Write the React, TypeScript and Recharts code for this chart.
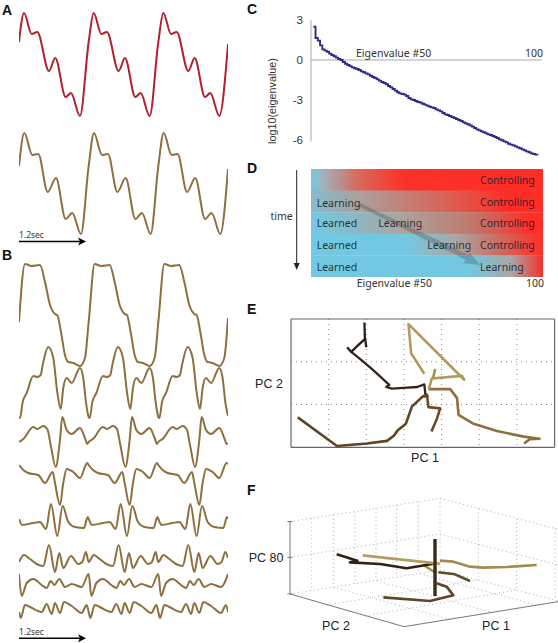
import { BarChart, Bar, Cell, CartesianGrid, LineChart, Line, ReferenceLine, XAxis, YAxis } from "recharts";
import type { CSSProperties } from "react";

// one cycle of each oscillator output: position along the trace and level
const a1Time = [0, 5, 12.7, 18.3, 30, 36.3, 46.7, 52, 61];
const a1Level = [78, 107, 86, 88, 49, 62, 23, 27, 4];
const a2Time = [0, 5.3, 13.3, 19.3, 28.7, 37, 46.7, 53.3, 62];
const a2Level = [72, 105, 83, 84, 46, 60, 19, 25, 4];
const b1Time = [0, 6, 12.7, 21, 26, 31, 36, 38.3, 42, 46, 49.3, 54.3, 61, 66];
const b1Level = [48, 106, 104, 105, 88, 65, 56, 55, 38, 15, 8, 7, 4, 12];
const b2Time = [0, 1, 3.7, 7.7, 14.3, 18.3, 21.7, 23.7, 29.3, 34.3, 38.3, 41.7, 44.3, 47.7, 52.7, 61, 64.3, 67];
const b2Level = [5, 4, 20, 29, 46, 45, 47, 57, 75, 64, 30, 13, 34, 44, 39, 54, 44, 20];
const b3Time = [0, 4.3, 14.3, 18.3, 24.3, 28.3, 31.7, 36.7, 41, 43.3, 47.7, 52.7, 61, 66, 68.3];
const b3Level = [28, 31, 43, 41, 44, 41, 25, 3, 30, 53, 40, 36, 42, 32, 26];
const b4Time = [0, 4.3, 9.3, 19.3, 26, 33.7, 36, 41, 44.3, 47.7, 54.3, 61, 68.3];
const b4Level = [45, 40, 37, 35, 27, 38, 27, 5, 27, 41, 38, 32, 47];
const b5Time = [0, 3.3, 14.3, 21, 27, 32, 38.3, 43.7, 49.3, 56, 65, 68.7];
const b5Level = [21, 15, 17, 18, 11, 36, 4, 34, 18, 13, 12, 23];
const b6Time = [0, 5, 11, 17.7, 24.3, 30, 36, 40.3, 44.3, 52, 59.3, 63.3, 67];
const b6Level = [13, 20, 16, 11, 9, 30, 3, 22, 7, 19, 11, 13, 23];
const b7Time = [0, 2.7, 7.7, 14.3, 22.7, 27.7, 31.7, 35.3, 40.3, 46, 52.7, 62.7];
const b7Level = [26, 4, 17, 21, 15, 12, 19, 15, 21, 13, 16, 13];
const b8Time = [0, 1.7, 6, 11, 22.7, 27.7, 32.7, 36, 41, 45, 52.7, 62.7, 67.7];
const b8Level = [12, 6, 19, 17, 12, 20, 10, 21, 11, 22, 18, 11, 19];

const CYCLE = 69.7;

const eigenvalues = [
  2.5, 1.65, 1.45, 1.1, 0.8, 0.7, 0.62, 0.48, 0.38, 0.28,
  0.18, 0.08, 0, -0.15, -0.28, -0.38, -0.46, -0.55, -0.62, -0.68,
  -0.75, -0.85, -0.92, -1, -1.08, -1.18, -1.28, -1.35, -1.45, -1.55,
  -1.65, -1.72, -1.82, -1.95, -2.05, -2.18, -2.3, -2.42, -2.5, -2.55,
  -2.6, -2.7, -2.85, -2.95, -3, -3.08, -3.15, -3.2, -3.28, -3.35,
  -3.42, -3.5, -3.55, -3.6, -3.7, -3.78, -3.85, -3.98, -4.08, -4.12,
  -4.2, -4.28, -4.35, -4.42, -4.5, -4.58, -4.68, -4.75, -4.82, -4.9,
  -5, -5.1, -5.2, -5.28, -5.35, -5.42, -5.5, -5.58, -5.62, -5.7,
  -5.78, -5.85, -5.95, -6.02, -6.1, -6.18, -6.28, -6.35, -6.4, -6.48,
  -6.55, -6.62, -6.7, -6.78, -6.85, -6.92, -7, -7.05, -7.1, -7.15,
];

const timeRows = ["t1", "t2", "t3", "t4", "t5"];

// PC trajectories, panel E: [PC 1, PC 2]
const pcDark1 = [[1.95, 2.92], [1.96, 2.59], [2.0, 2.34]];
const pcDark2 = [[1.96, 2.53], [1.75, 2.36], [1.6, 2.23], [1.49, 2.34]];
const pcDark3 = [[1.6, 2.23], [1.84, 2.06], [2.19, 1.8], [2.61, 1.46], [2.53, 1.41], [2.68, 1.37], [2.99, 1.39], [3.35, 1.41], [3.54, 1.47], [3.57, 1.23]];
const pcBrown1 = [[0.18, 0.7], [1.22, 0.03], [2.02, 0.09], [2.55, 0.15], [2.73, 0.27], [2.83, 0.39], [3.05, 0.55], [3.21, 0.95], [3.5, 1.19], [3.65, 1.19]];
const pcBrown2 = [[3.5, 1.19], [3.61, 1.23], [3.65, 0.94], [3.96, 0.91], [3.88, 0.68], [3.73, 0.37]];
const pcMid = [[3.65, 1.36], [4.23, 1.36], [4.41, 1.15], [4.45, 0.76], [4.85, 0.55], [5.47, 0.38], [6.18, 0.25], [6.6, 0.2], [6.34, 0.19], [6.19, 0.09]];
const pcTan1 = [[3.66, 1.36], [3.74, 1.61], [4.54, 1.67], [4.6, 1.58], [3.12, 2.88], [3.19, 2.2], [3.54, 1.72]];
const pcTan2 = [[3.83, 1.83], [3.77, 1.61]];

// panel F, already projected to the page plane
const wallLines = [
  [[15, 36.4], [60, 43.4]], [[15, 25.7], [60, 32.7]], [[15, 14.7], [60, 21.9]],
  [[60, 43.4], [95.4, 34.1]], [[60, 32.7], [95.4, 23.4]], [[60, 21.9], [95.4, 12.6]],
  [[21.5, 37.4], [21.5, 15.7]], [[28, 38.4], [28, 16.7]], [[34.5, 39.4], [34.5, 17.7]],
  [[40.8, 40.4], [40.8, 18.7]], [[47, 41.4], [47, 19.7]], [[53.5, 42.4], [53.5, 20.9]],
  [[60, 43.4], [60, 21.9]], [[71.5, 40.4], [71.5, 18.9]], [[83, 37.2], [83, 15.9]],
  [[94.5, 34.3], [94.5, 12.9]],
  [[26, 11.4], [71.5, 18.9]], [[37.5, 8.1], [83, 15.9]], [[63, 7.1], [28, 16.7]],
  [[76, 9.1], [40.8, 18.7]], [[89, 11.4], [53.5, 20.9]],
];
const boxAxes = [
  [[15, 36.4], [15, 14.7]], [[15, 14.7], [49.2, 4.9]], [[49.2, 4.9], [95.4, 12.4]],
  [[14.2, 36.4], [15.8, 36.4]], [[14.2, 25.7], [15.8, 25.7]], [[14.2, 14.7], [15.8, 14.7]],
];
const f3dRod = [[58.5, 31.2], [58.5, 14.1]];
const f3dDark = [[29, 26.6], [35.2, 24.7], [33, 24.2], [42, 23.7], [50, 22.4], [54.5, 23.2], [59, 23.9]];
const f3dTan1 = [[36.8, 26.3], [45, 25.4], [59, 23.9], [60, 23.7]];
const f3dTan2 = [[60, 24.7], [64, 24.4], [69, 22.9], [73, 22.6], [80, 22.8], [89, 23.4]];
const f3dTan3 = [[55, 23.4], [59, 20.9]];
const f3dBrown1 = [[43, 13.7], [57, 12.6], [64, 14.3], [62, 16.9], [59, 17.9]];
const f3dBrown2 = [[59.5, 21.2], [64.5, 20.6], [69, 18.6]];

const RED = "#b3202f";
const TAN = "#8e6f3f";
const SANS = "'Liberation Sans', Arial, sans-serif";
const HUMAN = "'Noto Sans', sans-serif";

// the outputs are periodic, so one read cycle is laid out three times
function threeCycles(time: number[], level: number[], last: number) {
  const rows: { t: number; v: number }[] = [];
  for (let c = 0; c < 3; c++) {
    time.forEach((t, i) => rows.push({ t: t + c * CYCLE, v: level[i] }));
  }
  rows.push({ t: 3 * CYCLE, v: last });
  return rows;
}

const toRows = (pts: number[][]) => pts.map(([x, y]) => ({ x, y }));

function Trace({ time, level, last, top, h, color }: { time: number[]; level: number[]; last: number; top: number; h: number; color: string }) {
  return (
    <div style={{ position: "absolute", left: 19, top }}>
      <LineChart width={209} height={h} data={threeCycles(time, level, last)} margin={{ top: 0, right: 0, bottom: 0, left: 0 }}>
        <XAxis hide type="number" dataKey="t" domain={[0, 3 * CYCLE]} />
        <YAxis hide domain={[0, h]} />
        <Line type="monotone" dataKey="v" stroke={color} strokeWidth={2} dot={false} isAnimationActive={false} />
      </LineChart>
    </div>
  );
}

function Txt({ x, y, children, style }: { x: number; y: number; children: React.ReactNode; style?: CSSProperties }) {
  return (
    <div style={{ position: "absolute", left: x, top: y, transform: "translateY(-50%)", whiteSpace: "nowrap", lineHeight: 1, ...style }}>
      {children}
    </div>
  );
}

const panelLetter: CSSProperties = { fontFamily: SANS, fontWeight: 700, fontSize: 14, color: "#111" };
const pcLabel: CSSProperties = { fontFamily: SANS, fontSize: 12.5, color: "#222" };
const dLabel: CSSProperties = { fontFamily: HUMAN, fontSize: 10.5, color: "rgba(12,28,44,0.88)" };
const cLabel: CSSProperties = { fontFamily: HUMAN, fontSize: 10.5, color: "#333" };

function PathLine({ pts, color, width = 2.6 }: { pts: number[][]; color: string; width?: number }) {
  return (
    <Line data={toRows(pts)} dataKey="y" type="linear" stroke={color} strokeWidth={width} dot={false} isAnimationActive={false} strokeLinejoin="round" />
  );
}

const rowGradients = [
  [[0, "#72c8e0"], [5, "#9fb4bc"], [20, "#d86a5e"], [40, "#fb3229"], [100, "#ff2d26"]],
  [[0, "#85bdcd"], [20, "#a9a29c"], [55, "#d4685c"], [85, "#ff2d26"], [100, "#ff2d26"]],
  [[0, "#72c8e0"], [15, "#86bccb"], [38, "#aca59f"], [70, "#c0776c"], [95, "#ff2d26"], [100, "#ff2d26"]],
  [[0, "#72c8e0"], [41, "#72c8e0"], [62, "#a9a8a6"], [82, "#d0685c"], [100, "#ff2d26"]],
  [[0, "#72c8e0"], [68, "#72c8e0"], [86, "#a8a8a6"], [100, "#f5302a"]],
];

export default function App() {
  return (
    <div style={{ position: "absolute", left: 0, top: 0, width: 558, height: 643, background: "#fff", overflow: "hidden" }}>
      <Trace time={a1Time} level={a1Level} last={76} top={8} h={112} color={RED} />
      <Trace time={a2Time} level={a2Level} last={69} top={128} h={110} color={TAN} />
      <Trace time={b1Time} level={b1Level} last={52} top={260} h={110} color={TAN} />
      <Trace time={b2Time} level={b2Level} last={6} top={342} h={80} color={TAN} />
      <Trace time={b3Time} level={b3Level} last={27} top={412} h={58} color={TAN} />
      <Trace time={b4Time} level={b4Level} last={46} top={458} h={52} color={TAN} />
      <Trace time={b5Time} level={b5Level} last={21} top={500} h={40} color={TAN} />
      <Trace time={b6Time} level={b6Level} last={17} top={542} h={33} color={TAN} />
      <Trace time={b7Time} level={b7Level} last={26} top={570} h={30} color={TAN} />
      <Trace time={b8Time} level={b8Level} last={12} top={598} h={26} color={TAN} />

      {/* C */}
      <div style={{ position: "absolute", left: 240, top: 10 }}>
        <LineChart width={310} height={160} data={eigenvalues.map((v, i) => ({ n: i + 1, v }))} margin={{ top: 10, right: 8, bottom: 10, left: 0 }}>
          <XAxis hide type="number" dataKey="n" domain={[0, 102]} />
          <YAxis
            width={71}
            domain={[-7.5, 3]}
            ticks={[3, 0, -3, -6]}
            axisLine={false}
            tickLine={false}
            tickMargin={2}
            interval={0}
            tick={{ fontSize: 11.5, fontFamily: SANS, fill: "#333" }}
          />
          <ReferenceLine y={0} stroke="#aaa" strokeWidth={1} />
          <ReferenceLine segment={[{ x: 0, y: 3 }, { x: 0, y: -6.1 }]} stroke="#aaa" strokeWidth={1} />
          <Line type="stepAfter" dataKey="v" stroke="#2f2c86" strokeWidth={1.9} dot={false} isAnimationActive={false} />
        </LineChart>
      </div>

      {/* D */}
      <div style={{ position: "absolute", left: 311, top: 169 }}>
        <BarChart
          layout="vertical"
          width={232}
          height={108}
          data={timeRows.map((row) => ({ row, eigen: 100 }))}
          margin={{ top: 0, right: 0, bottom: 0, left: 0 }}
          barCategoryGap={0}
        >
          <defs>
            {rowGradients.map((stops, i) => (
              <linearGradient key={i} id={`row${i}`} x1="0" y1="0" x2="1" y2="0">
                {stops.map(([o, c]) => (
                  <stop key={o} offset={`${o}%`} stopColor={c as string} />
                ))}
              </linearGradient>
            ))}
          </defs>
          <XAxis hide type="number" domain={[0, 100]} />
          <YAxis hide type="category" dataKey="row" />
          <Bar dataKey="eigen" isAnimationActive={false}>
            {timeRows.map((row, i) => (
              <Cell key={row} fill={`url(#row${i})`} />
            ))}
          </Bar>
        </BarChart>
      </div>

      {/* E */}
      <div style={{ position: "absolute", left: 289, top: 317 }}>
        <LineChart width={267.6} height={132.3} margin={{ top: 2, right: 2, bottom: 2, left: 2 }}>
          <CartesianGrid strokeDasharray="1 4" stroke="#888" horizontalValues={[1, 2]} verticalValues={[1, 2, 3, 4, 5, 6]} />
          <XAxis hide type="number" dataKey="x" domain={[0, 7]} />
          <YAxis hide type="number" domain={[0, 3]} />
          <ReferenceLine y={0} stroke="#666" strokeWidth={1.2} />
          <ReferenceLine y={3} stroke="#666" strokeWidth={1.2} />
          <ReferenceLine x={0} stroke="#666" strokeWidth={1.2} />
          <ReferenceLine x={7} stroke="#666" strokeWidth={1.2} />
          {PathLine({ pts: pcBrown1, color: "#5f4528" })}
          {PathLine({ pts: pcBrown2, color: "#6a4b2a" })}
          {PathLine({ pts: pcMid, color: "#8c7040" })}
          {PathLine({ pts: pcTan1, color: "#b29a5e" })}
          {PathLine({ pts: pcTan2, color: "#a88f50" })}
          {PathLine({ pts: pcDark1, color: "#2a2018", width: 2.3 })}
          {PathLine({ pts: pcDark2, color: "#2a2018", width: 2.3 })}
          {PathLine({ pts: pcDark3, color: "#33251a", width: 2.3 })}
        </LineChart>
      </div>

      {/* F */}
      <div style={{ position: "absolute", left: 240, top: 470 }}>
        <LineChart width={318} height={173} margin={{ top: 0, right: 0, bottom: 0, left: 0 }}>
          <XAxis hide type="number" dataKey="x" domain={[0, 95.4]} />
          <YAxis hide type="number" domain={[0, 51.9]} />
          {wallLines.map((pts, i) => (
            <Line key={`w${i}`} data={toRows(pts)} dataKey="y" stroke="#999" strokeWidth={0.8} strokeDasharray="1 3" dot={false} isAnimationActive={false} />
          ))}
          {boxAxes.map((pts, i) => (
            <Line key={`a${i}`} data={toRows(pts)} dataKey="y" stroke="#777" strokeWidth={1} dot={false} isAnimationActive={false} />
          ))}
          {PathLine({ pts: f3dBrown1, color: "#5f4427" })}
          {PathLine({ pts: f3dBrown2, color: "#5f4a2a" })}
          {PathLine({ pts: f3dTan3, color: "#a88f50" })}
          {PathLine({ pts: f3dDark, color: "#2e2216" })}
          {PathLine({ pts: f3dTan1, color: "#b59c60" })}
          {PathLine({ pts: f3dTan2, color: "#a58a50" })}
          {PathLine({ pts: f3dRod, color: "#3a2a18", width: 3.4 })}
        </LineChart>
      </div>

      {/* arrows */}
      <svg width={558} height={643} style={{ position: "absolute", left: 0, top: 0, pointerEvents: "none" }}>
        <polygon points="358,206 360,203 469,255 470,253 480,265 463,263 466,260" fill="rgba(70,70,70,0.3)" />
        <line x1={19} y1={241.5} x2={80} y2={241.5} stroke="#000" strokeWidth={1.6} />
        <polygon points="86,241.5 78,237.5 80,241.5 78,245.5" fill="#000" />
        <line x1={19} y1={638.3} x2={80} y2={638.3} stroke="#000" strokeWidth={1.6} />
        <polygon points="86,638.3 78,634.3 80,638.3 78,642.3" fill="#000" />
        <line x1={296.7} y1={170} x2={296.7} y2={264} stroke="#222" strokeWidth={1} />
        <polygon points="296.7,270 293.7,263 299.7,263" fill="#222" />
      </svg>

      {/* text */}
      <Txt x={2} y={10} style={panelLetter}>A</Txt>
      <Txt x={2} y={255} style={panelLetter}>B</Txt>
      <Txt x={247} y={9} style={panelLetter}>C</Txt>
      <Txt x={247} y={168} style={panelLetter}>D</Txt>
      <Txt x={247} y={309} style={panelLetter}>E</Txt>
      <Txt x={247} y={490} style={panelLetter}>F</Txt>

      <Txt x={19} y={235} style={{ fontFamily: HUMAN, fontSize: 8.5, color: "#333" }}>1.2sec</Txt>
      <Txt x={19} y={631.5} style={{ fontFamily: HUMAN, fontSize: 8.5, color: "#333" }}>1.2sec</Txt>

      <Txt x={356} y={53} style={cLabel}>Eigenvalue #50</Txt>
      <Txt x={525} y={53} style={cLabel}>100</Txt>
      <Txt x={272} y={101} style={{ fontFamily: SANS, fontSize: 10.8, color: "#333", transform: "translate(-50%,-50%) rotate(-90deg)" }}>log10(eigenvalue)</Txt>

      <Txt x={480} y={180} style={dLabel}>Controlling</Txt>
      <Txt x={480} y={201.7} style={dLabel}>Controlling</Txt>
      <Txt x={480} y={223.3} style={dLabel}>Controlling</Txt>
      <Txt x={480} y={245} style={dLabel}>Controlling</Txt>
      <Txt x={316.7} y={202.7} style={dLabel}>Learning</Txt>
      <Txt x={316.7} y={223.3} style={dLabel}>Learned</Txt>
      <Txt x={378.3} y={223.3} style={dLabel}>Learning</Txt>
      <Txt x={316.7} y={245} style={dLabel}>Learned</Txt>
      <Txt x={427.3} y={245} style={dLabel}>Learning</Txt>
      <Txt x={316.7} y={266.7} style={dLabel}>Learned</Txt>
      <Txt x={480} y={266.7} style={dLabel}>Learning</Txt>
      <Txt x={356.7} y={283} style={cLabel}>Eigenvalue #50</Txt>
      <Txt x={526} y={283} style={cLabel}>100</Txt>
      <Txt x={270.5} y={216} style={{ ...cLabel, fontSize: 10.5 }}>time</Txt>

      <Txt x={425} y={457.7} style={{ ...pcLabel, transform: "translate(-50%,-50%)" }}>PC 1</Txt>
      <Txt x={269} y={384} style={{ ...pcLabel, transform: "translate(-50%,-50%)" }}>PC 2</Txt>
      <Txt x={266} y={558} style={{ ...pcLabel, transform: "translate(-50%,-50%)" }}>PC 80</Txt>
      <Txt x={336} y={625.7} style={{ ...pcLabel, transform: "translate(-50%,-50%)" }}>PC 2</Txt>
      <Txt x={496} y={625.7} style={{ ...pcLabel, transform: "translate(-50%,-50%)" }}>PC 1</Txt>
    </div>
  );
}
